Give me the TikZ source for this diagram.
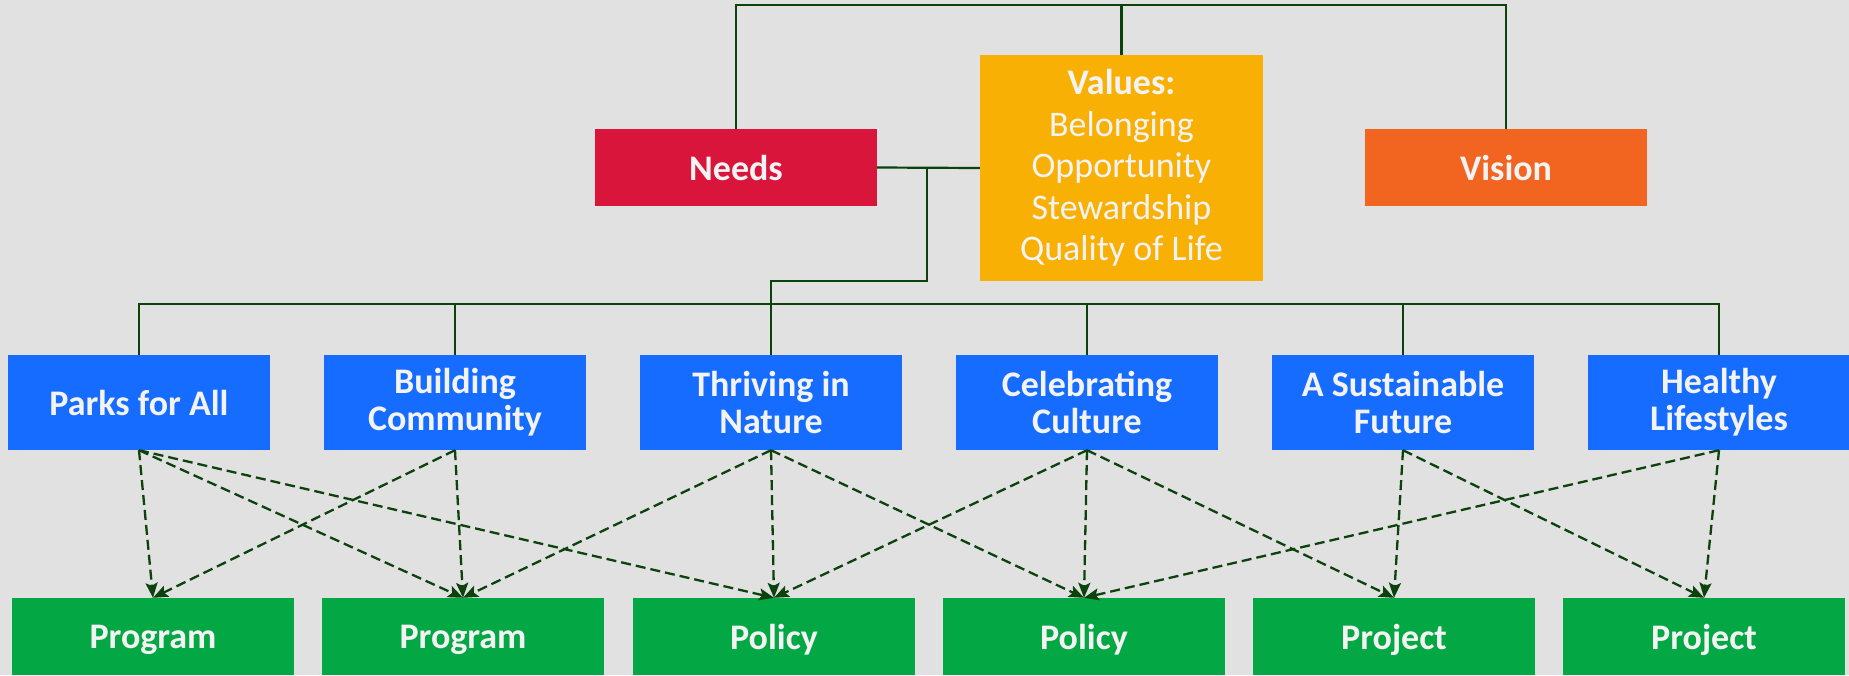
\documentclass[tikz,border=0pt]{standalone}
\usepackage{fontspec}
\setmainfont{Carlito}
\usetikzlibrary{arrows.meta}
\definecolor{bg}{RGB}{225,225,226}
\definecolor{needsred}{RGB}{217,21,60}
\definecolor{valyellow}{RGB}{249,176,5}
\definecolor{visorange}{RGB}{242,101,32}
\definecolor{themeblue}{RGB}{22,108,255}
\definecolor{actgreen}{RGB}{3,168,69}
\definecolor{linegreen}{RGB}{12,66,12}
\definecolor{txt}{RGB}{243,243,243}
\tikzset{
  box/.style={rectangle, inner sep=0pt, align=center, text=txt, font=\fontsize{36}{37}\selectfont\bfseries},
  topbox/.style={box, minimum width=282pt, minimum height=77pt},
  themebox/.style={box, fill=themeblue, minimum width=262pt, minimum height=95pt},
  actbox/.style={box, fill=actgreen, minimum width=282pt, minimum height=77pt, text depth=0pt},
  solidlink/.style={draw=linegreen, line width=2.2pt},
  dashlink/.style={draw=linegreen, line width=2.3pt, dash pattern=on 10pt off 5pt, -{Stealth[length=15pt,width=12pt,inset=3pt]}}
}
\begin{document}
\begin{tikzpicture}[x=1pt,y=-1pt]
\fill[bg] (0,0) rectangle (1849,675);
\useasboundingbox (0,0) rectangle (1849,675);

% top row
\node[topbox, fill=needsred] (needs) at (736,167.5) {Needs};
\node[topbox, fill=valyellow, minimum height=226pt, minimum width=283pt,
      font=\fontsize{36}{41.5}\selectfont] (values) at (1121.5,168)
      {\textbf{Values:}\\Belonging\\Opportunity\\Stewardship\\Quality of Life};
\node[topbox, fill=visorange] (vision) at (1506,167.5) {Vision};

% themes
\node[themebox] (parks) at (139,402.5) {Parks for All};
\node[themebox] (building) at (455,402.5) {Building\\Community};
\node[themebox] (thriving) at (771,402.5) {Thriving in\\Nature};
\node[themebox] (culture) at (1087,402.5) {Celebrating\\Culture};
\node[themebox] (future) at (1403,402.5) {A Sustainable\\Future};
\node[themebox] (healthy) at (1719,402.5) {Healthy\\Lifestyles};

% actions
\node[actbox] (prog1) at (153,636.5) {Program};
\node[actbox] (prog2) at (463,636.5) {Program};
\node[actbox] (pol1) at (774,636.5) {Policy};
\node[actbox] (pol2) at (1084,636.5) {Policy};
\node[actbox] (proj1) at (1394,636.5) {Project};
\node[actbox] (proj2) at (1704,636.5) {Project};

% top connectors
\coordinate (topbar) at (1121.5,5);
\draw[solidlink] (needs.north) |- (topbar) -| (vision.north);
\draw[solidlink] (values.north) -- (topbar);
\draw[solidlink] (needs.east) -- (values.west);
\coordinate (j1) at (927,167.5);
\coordinate (j3) at (771,281);
\draw[solidlink] (j1) |- (j3) -- (thriving.north);

% theme bar
\coordinate (bar) at (0,304);
\draw[solidlink] (parks.north) |- (bar -| healthy.north) -- (healthy.north);
\draw[solidlink] (building.north) -- (building.north |- bar);
\draw[solidlink] (culture.north) -- (culture.north |- bar);
\draw[solidlink] (future.north) -- (future.north |- bar);

% dashed arrows
\draw[dashlink] (parks.south) -- (prog1.north);
\draw[dashlink] (parks.south) -- (prog2.north);
\draw[dashlink] (parks.south) -- (pol1.north);
\draw[dashlink] (building.south) -- (prog1.north);
\draw[dashlink] (building.south) -- (prog2.north);
\draw[dashlink] (thriving.south) -- (prog2.north);
\draw[dashlink] (thriving.south) -- (pol1.north);
\draw[dashlink] (thriving.south) -- (pol2.north);
\draw[dashlink] (culture.south) -- (pol1.north);
\draw[dashlink] (culture.south) -- (pol2.north);
\draw[dashlink] (culture.south) -- (proj1.north);
\draw[dashlink] (future.south) -- (proj1.north);
\draw[dashlink] (future.south) -- (proj2.north);
\draw[dashlink] (healthy.south) -- (pol2.north);
\draw[dashlink] (healthy.south) -- (proj2.north);
\end{tikzpicture}
\end{document}
